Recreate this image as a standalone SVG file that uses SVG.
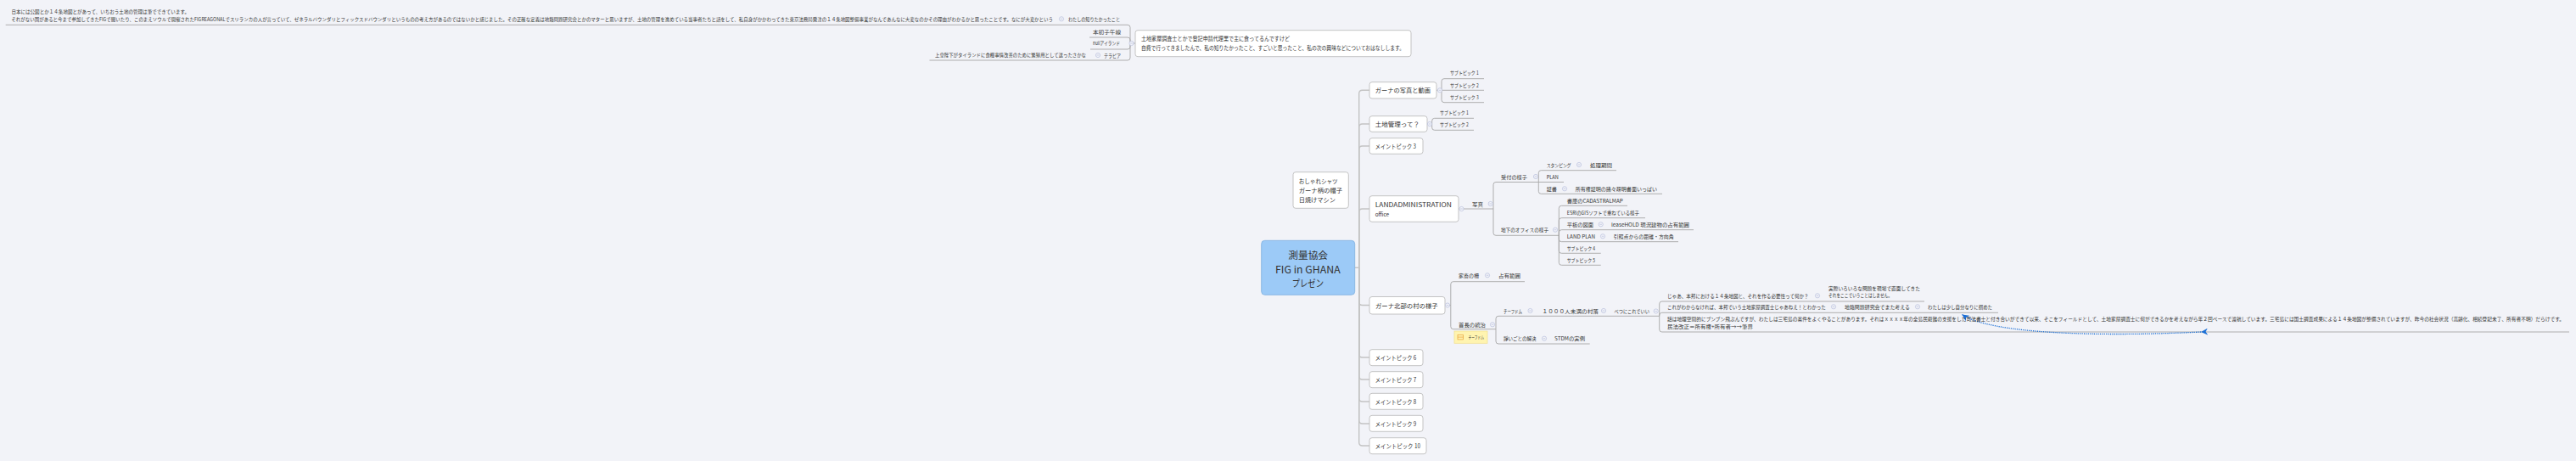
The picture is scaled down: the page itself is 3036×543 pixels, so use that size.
<svg xmlns="http://www.w3.org/2000/svg" xmlns:xlink="http://www.w3.org/1999/xlink" width="3036" height="543" viewBox="0 0 3036 543">
<defs>
<style>
.t{font-family:"Noto Sans CJK JP","Noto Sans",sans-serif;fill:#333;dominant-baseline:central}
.xs{font-size:5.5px}
.s{font-size:6px}
.m{font-size:7.3px}
.c{font-size:11.5px}
.box{fill:#fff;stroke:#bdbdbd;stroke-width:0.9}
.ln{fill:none;stroke:#a6a6a6;stroke-width:0.9}
.tr{fill:none;stroke:#c3c3c3;stroke-width:1.4}
.rel{fill:none;stroke:#1b6fd6;stroke-width:1.3;stroke-dasharray:1.2 1.2}
</style>
<g id="btn"><circle r="2.6" fill="#f2f3f8" stroke="#b7bfdc" stroke-width="0.7"/><path d="M-1.3 0H1.3" stroke="#b7bfdc" stroke-width="0.7"/></g>
<marker id="ah" viewBox="0 0 10 10" refX="10" refY="5" markerWidth="8" markerHeight="8" markerUnits="userSpaceOnUse" orient="auto"><path d="M10 5L0 0L3 5L0 10Z" fill="#1b6fd6"/></marker>
</defs>
<rect width="3036" height="543" fill="#f2f3f8"/>

<g id="connectors">
<g class="tr">
<path d="M1596.7 315.3H1601.7"/>
<path d="M1601.7 315.3V110.3Q1601.7 106.3 1605.7 106.3H1614"/>
<path d="M1601.7 315.3V150Q1601.7 146 1605.7 146H1614"/>
<path d="M1601.7 315.3V176Q1601.7 172 1605.7 172H1614"/>
<path d="M1601.7 315.3V250Q1601.7 246 1605.7 246H1614"/>
<path d="M1601.7 315.3V355.5Q1601.7 359.5 1605.7 359.5H1614"/>
<path d="M1601.7 315.3V417Q1601.7 421 1605.7 421H1614"/>
<path d="M1601.7 315.3V443Q1601.7 447 1605.7 447H1614"/>
<path d="M1601.7 315.3V469Q1601.7 473 1605.7 473H1614"/>
<path d="M1601.7 315.3V495Q1601.7 499 1605.7 499H1614"/>
<path d="M1601.7 315.3V521Q1601.7 525 1605.7 525H1614"/>
</g>
<g class="ln">
<path d="M1338 51H1332"/>
<path d="M1332 51V32.3Q1332 29.3 1329 29.3H6.7"/>
<path d="M1332 51V47Q1332 44 1329 44H1284"/>
<path d="M1332 51V55Q1332 58 1329 58H1285"/>
<path d="M1332 51V68Q1332 71 1329 71H1095.5"/>
<path d="M1693 106.3H1699"/>
<path d="M1699 106.3V95.7Q1699 92.7 1702 92.7H1749"/>
<path d="M1699 106.3H1749"/>
<path d="M1699 106.3V117.7Q1699 120.7 1702 120.7H1749"/>
<path d="M1682 146H1687.7"/>
<path d="M1687.7 146V142.3Q1687.7 139.3 1690.7 139.3H1737"/>
<path d="M1687.7 146V150.3Q1687.7 153.3 1690.7 153.3H1737"/>
<path d="M1719 246H1760"/>
<path d="M1760 246V217.5Q1760 214.5 1763 214.5H1813.3"/>
<path d="M1760 246V274.3Q1760 277.3 1763 277.3H1837.3"/>
<path d="M1813.3 214.5V203.7Q1813.3 200.7 1816.3 200.7H1905"/>
<path d="M1813.3 214.5H1843"/>
<path d="M1813.3 214.5V225.3Q1813.3 228.3 1816.3 228.3H1959"/>
<path d="M1837.3 277.3V245.3Q1837.3 242.3 1840.3 242.3H1918"/>
<path d="M1837.3 277.3V259.7Q1837.3 256.7 1840.3 256.7H1939"/>
<path d="M1837.3 277.3V273.7Q1837.3 270.7 1840.3 270.7H1996"/>
<path d="M1837.3 277.3V281.7Q1837.3 284.7 1840.3 284.7H1978"/>
<path d="M1837.3 277.3V295.3Q1837.3 298.3 1840.3 298.3H1886.7"/>
<path d="M1837.3 277.3V309.3Q1837.3 312.3 1840.3 312.3H1886.7"/>
<path d="M1703 359.5H1709.8"/>
<path d="M1709.8 359.5V334.7Q1709.8 331.7 1712.8 331.7H1797"/>
<path d="M1709.8 359.5V384.7Q1709.8 387.7 1712.8 387.7H1763"/>
<path d="M1763 387.7V375.3Q1763 372.3 1766 372.3H1955.7"/>
<path d="M1763 387.7V402Q1763 405 1766 405H1873.7"/>
<path d="M1955.7 372.3V358Q1955.7 355 1958.7 355H2268"/>
<path d="M1955.7 372.3V371.3Q1955.7 368.3 1958.7 368.3H2355"/>
<path d="M1955.7 372.3V388Q1955.7 391 1958.7 391H3028"/>
</g>
<path class="rel" d="M2594 391C2470 397 2345 393 2312.5 370.5" marker-start="url(#ah)" marker-end="url(#ah)"/>
</g>

<g id="node-top-text">
<text class="t xs" x="13.4" y="13.5" textLength="209.6" lengthAdjust="spacingAndGlyphs">日本には公図とか１４条地図とがあって、いちおう土地の管理は筆でできています。</text>
<text class="t xs" x="13.4" y="22.5" textLength="1227.6" lengthAdjust="spacingAndGlyphs">それがない国があると今まで参加してきたFIGで聞いたり、このまえソウルで開催されたFIGREAGONALでスリランカの人が言っていて、ゼネラルバウンダリとフィックスドバウンダリというものの考え方があるのではないかと感じました。その正確な定義は地籍問題研究会とかのマターと思いますが、土地の管理を進めている当事者たちと話をして、私自身がかかわってきた東京法務局発注の１４条地図整備事業がなんであんなに大変なのかその理由がわかるかと思ったことです。なにが大変かという</text>
</g>
<g id="node-shiritakatta">
<use href="#btn" x="1251" y="22.3"/>
<text class="t s" x="1259" y="22.3" textLength="61" lengthAdjust="spacingAndGlyphs">わたしの知りたかったこと</text>
</g>
<g id="node-honsho">
<text class="t s" x="1288" y="37.3" textLength="33" lengthAdjust="spacingAndGlyphs">本初子午線</text>
</g>
<g id="node-null">
<text class="t s" x="1288" y="50.7" textLength="32" lengthAdjust="spacingAndGlyphs">nullアイランド</text>
</g>
<g id="node-terapia">
<use href="#btn" x="1294" y="65"/>
<text class="t s" x="1301" y="65" textLength="20" lengthAdjust="spacingAndGlyphs">テラピア</text>
</g>
<g id="node-joko">
<text class="t xs" x="1102" y="65" textLength="178" lengthAdjust="spacingAndGlyphs">上皇陛下がタイランドに食糧事情改善のために繁殖用として送ったさかな</text>
</g>
<g id="node-intro">
<rect class="box" x="1338" y="35.7" width="325" height="31" rx="3"/>
<use href="#btn" x="1333.5" y="51"/>
<text class="t" font-size="6.4" x="1345" y="45.7" textLength="175" lengthAdjust="spacingAndGlyphs">土地家屋調査士とかで登記申請代理業で主に食ってるんですけど</text>
<text class="t" font-size="6.4" x="1345" y="56.7" textLength="310" lengthAdjust="spacingAndGlyphs">自費で行ってきましたんで、私の知りたかったこと、すごいと思ったこと、私の次の興味などについておはなしします。</text>
</g>

<g id="node-center">
<rect x="1486.7" y="283.3" width="110" height="64" rx="4" fill="#9ccaf7" stroke="#86b4e2" stroke-width="0.9"/>
<text class="t c" x="1518.3" y="300" textLength="46.7" lengthAdjust="spacingAndGlyphs">測量協会</text>
<text class="t c" x="1503" y="316.7" textLength="76.7" lengthAdjust="spacingAndGlyphs">FIG in GHANA</text>
<text class="t c" x="1522.7" y="332.7" textLength="37.3" lengthAdjust="spacingAndGlyphs">プレゼン</text>
</g>
<g id="node-oshare">
<rect class="box" x="1524" y="202.7" width="65.3" height="42.6" rx="3"/>
<text class="t m" x="1530.7" y="212.7" textLength="46" lengthAdjust="spacingAndGlyphs">おしゃれシャツ</text>
<text class="t m" x="1530.7" y="224" textLength="51.3" lengthAdjust="spacingAndGlyphs">ガーナ柄の帽子</text>
<text class="t m" x="1530.7" y="235.3" textLength="43.3" lengthAdjust="spacingAndGlyphs">日焼けマシン</text>
</g>

<g id="node-main1">
<rect class="box" x="1614" y="96.7" width="79" height="19.3" rx="3"/>
<text class="t m" x="1620.7" y="106.3" textLength="65.3" lengthAdjust="spacingAndGlyphs">ガーナの写真と動画</text>
<use href="#btn" x="1697" y="106.3"/>
</g>
<g id="node-main1-sub1"><text class="t s" x="1709" y="85.7" textLength="33.7" lengthAdjust="spacingAndGlyphs">サブトピック 1</text></g>
<g id="node-main1-sub2"><text class="t s" x="1709" y="100" textLength="33.7" lengthAdjust="spacingAndGlyphs">サブトピック 2</text></g>
<g id="node-main1-sub3"><text class="t s" x="1709" y="114" textLength="33.7" lengthAdjust="spacingAndGlyphs">サブトピック 3</text></g>

<g id="node-main2">
<rect class="box" x="1614" y="136.7" width="68" height="18.6" rx="3"/>
<text class="t m" x="1620.7" y="146" textLength="52.3" lengthAdjust="spacingAndGlyphs">土地管理って？</text>
<use href="#btn" x="1685" y="146"/>
</g>
<g id="node-main2-sub1"><text class="t s" x="1697" y="132.3" textLength="33.7" lengthAdjust="spacingAndGlyphs">サブトピック 1</text></g>
<g id="node-main2-sub2"><text class="t s" x="1697" y="146.7" textLength="33.7" lengthAdjust="spacingAndGlyphs">サブトピック 2</text></g>

<g id="node-main3">
<rect class="box" x="1614" y="162.7" width="63" height="18.6" rx="3"/>
<text class="t m" x="1620.7" y="172" textLength="48.3" lengthAdjust="spacingAndGlyphs">メイントピック 3</text>
</g>

<g id="node-landadmin">
<rect class="box" x="1614" y="230.7" width="105" height="30.6" rx="3"/>
<text class="t m" x="1620.7" y="240.7" textLength="90.3" lengthAdjust="spacingAndGlyphs">LANDADMINISTRATION</text>
<text class="t m" x="1620.7" y="252" textLength="16.5" lengthAdjust="spacingAndGlyphs">office</text>
<use href="#btn" x="1722.5" y="246"/>
</g>
<g id="node-shashin">
<text class="t s" x="1735" y="240" textLength="13" lengthAdjust="spacingAndGlyphs">写真</text>
<use href="#btn" x="1756.7" y="240"/>
</g>
<g id="node-uketsuke">
<text class="t s" x="1769" y="208" textLength="31" lengthAdjust="spacingAndGlyphs">受付の様子</text>
<use href="#btn" x="1810" y="208"/>
</g>
<g id="node-stamping">
<text class="t s" x="1822.7" y="194" textLength="29" lengthAdjust="spacingAndGlyphs">スタンピング</text>
<use href="#btn" x="1861" y="194"/>
</g>
<g id="node-shorikikan"><text class="t s" x="1874" y="194" textLength="26" lengthAdjust="spacingAndGlyphs">処理期間</text></g>
<g id="node-plan"><text class="t s" x="1822.7" y="208" textLength="14" lengthAdjust="spacingAndGlyphs">PLAN</text></g>
<g id="node-shosho">
<text class="t s" x="1822.7" y="222.3" textLength="12.3" lengthAdjust="spacingAndGlyphs">証書</text>
<use href="#btn" x="1844" y="222.3"/>
</g>
<g id="node-shoyuken"><text class="t s" x="1856.7" y="222.3" textLength="96.3" lengthAdjust="spacingAndGlyphs">所有権証明の諸々疎明書面いっぱい</text></g>
<g id="node-chika">
<text class="t s" x="1769" y="270.7" textLength="56" lengthAdjust="spacingAndGlyphs">地下のオフィスの様子</text>
<use href="#btn" x="1833" y="270.7"/>
</g>
<g id="node-shoko"><text class="t s" x="1846.7" y="236" textLength="66" lengthAdjust="spacingAndGlyphs">書庫のCADASTRALMAP</text></g>
<g id="node-esri"><text class="t s" x="1846.7" y="250.3" textLength="85.3" lengthAdjust="spacingAndGlyphs">ESRIのGISソフトで重ねている様子</text></g>
<g id="node-heiban">
<text class="t s" x="1846.7" y="264.3" textLength="31.3" lengthAdjust="spacingAndGlyphs">平板の図面</text>
<use href="#btn" x="1886.7" y="264.3"/>
</g>
<g id="node-leasehold"><text class="t s" x="1899" y="264.3" textLength="92" lengthAdjust="spacingAndGlyphs">leaseHOLD 現況建物の占有範囲</text></g>
<g id="node-landplan">
<text class="t s" x="1846.7" y="278.3" textLength="33.3" lengthAdjust="spacingAndGlyphs">LAND PLAN</text>
<use href="#btn" x="1889" y="278.3"/>
</g>
<g id="node-insho"><text class="t s" x="1901.7" y="278.3" textLength="71" lengthAdjust="spacingAndGlyphs">引照点からの距離・方向角</text></g>
<g id="node-sub4"><text class="t s" x="1846.7" y="292.3" textLength="33.3" lengthAdjust="spacingAndGlyphs">サブトピック 4</text></g>
<g id="node-sub5"><text class="t s" x="1846.7" y="306.7" textLength="33.3" lengthAdjust="spacingAndGlyphs">サブトピック 5</text></g>

<g id="node-main5">
<rect class="box" x="1614" y="349.5" width="89" height="20.5" rx="3"/>
<text class="t m" x="1621" y="359.5" textLength="73.7" lengthAdjust="spacingAndGlyphs">ガーナ北部の村の様子</text>
<use href="#btn" x="1706" y="359.5"/>
</g>
<g id="node-kachiku">
<text class="t s" x="1719" y="324.3" textLength="24" lengthAdjust="spacingAndGlyphs">家畜の柵</text>
<use href="#btn" x="1753" y="324.3"/>
</g>
<g id="node-senyu"><text class="t s" x="1766" y="324.3" textLength="26" lengthAdjust="spacingAndGlyphs">占有範囲</text></g>
<g id="node-shucho">
<text class="t s" x="1719" y="382.3" textLength="32" lengthAdjust="spacingAndGlyphs">首長の統治</text>
<use href="#btn" x="1759" y="382.3"/>
<rect x="1714" y="390" width="39" height="14.3" fill="#fff4b0" stroke="#f1df8c" stroke-width="0.7"/>
<rect x="1718" y="394.3" width="6.6" height="5.6" fill="none" stroke="#e9a23b" stroke-width="0.7"/>
<path d="M1718 397.1H1724.6" stroke="#e9a23b" stroke-width="0.7"/>
<text class="t" font-size="5" x="1730.5" y="396.9" textLength="18.5" lengthAdjust="spacingAndGlyphs">チーフドム</text>
</g>
<g id="node-chiefdom">
<text class="t s" x="1772" y="366" textLength="22" lengthAdjust="spacingAndGlyphs">チーフドム</text>
<use href="#btn" x="1803.5" y="366"/>
</g>
<g id="node-sonraku">
<text class="t s" x="1817.5" y="366" textLength="66.5" lengthAdjust="spacingAndGlyphs">１０００人未満の村落</text>
<use href="#btn" x="1890" y="366"/>
</g>
<g id="node-betsuni">
<text class="t s" x="1902.5" y="366" textLength="41.5" lengthAdjust="spacingAndGlyphs">べつにこれでいい</text>
<use href="#btn" x="1951.7" y="366.5"/>
</g>
<g id="node-isakai">
<text class="t s" x="1772" y="398.7" textLength="38.5" lengthAdjust="spacingAndGlyphs">諍いごとの解決</text>
<use href="#btn" x="1820" y="398.7"/>
</g>
<g id="node-stdm"><text class="t s" x="1832" y="398.7" textLength="36" lengthAdjust="spacingAndGlyphs">STDMの実例</text></g>
<g id="node-jaa">
<text class="t s" x="1965" y="348.3" textLength="166.7" lengthAdjust="spacingAndGlyphs">じゃあ、本邦における１４条地図と、それを作る必要性って何か？</text>
<use href="#btn" x="2142" y="348.3"/>
</g>
<g id="node-jissai">
<text class="t s" x="2155" y="339" textLength="108" lengthAdjust="spacingAndGlyphs">実際いろいろな問題を現場で直面してきた</text>
<text class="t s" x="2155" y="347.7" textLength="75" lengthAdjust="spacingAndGlyphs">それをここでいうことはしません。</text>
</g>
<g id="node-korega">
<text class="t s" x="1965" y="361.3" textLength="186.7" lengthAdjust="spacingAndGlyphs">これがわからなければ、本邦でいう土地家屋調査士じゃあねえ！とわかった</text>
<use href="#btn" x="2161" y="361.3"/>
</g>
<g id="node-chiseki">
<text class="t s" x="2174" y="361.3" textLength="77" lengthAdjust="spacingAndGlyphs">地籍問題研究会でまた考える</text>
<use href="#btn" x="2260" y="361.3"/>
</g>
<g id="node-tsukameta"><text class="t s" x="2272" y="361.3" textLength="76" lengthAdjust="spacingAndGlyphs">わたしは少し自分なりに掴めた</text></g>
<g id="node-hanashi">
<text class="t s" x="1965" y="375" textLength="1057" lengthAdjust="spacingAndGlyphs">話は地理空間的にブンブン飛ぶんですが、わたしは三宅島の案件をよくやることがあります。それはｘｘｘｘ年の全島民避難の支援をした司法書士と付き合いができて以来、そこをフィールドとして、土地家屋調査士に何ができるかを考えながら年２回ペースで渡航しています。三宅島には国土調査成果による１４条地図が整備されていますが、昨今の社会状況（高齢化、相続登記未了、所有者不明）だらけです。</text>
<text class="t s" x="1965" y="384" textLength="101" lengthAdjust="spacingAndGlyphs">民法改正＝所有権+所有者→→筆界</text>
</g>

<g id="node-main6"><rect class="box" x="1614" y="411.7" width="63" height="19" rx="3"/><text class="t m" x="1620.7" y="421" textLength="48.6" lengthAdjust="spacingAndGlyphs">メイントピック 6</text></g>
<g id="node-main7"><rect class="box" x="1614" y="437.7" width="63" height="19" rx="3"/><text class="t m" x="1620.7" y="447" textLength="48.6" lengthAdjust="spacingAndGlyphs">メイントピック 7</text></g>
<g id="node-main8"><rect class="box" x="1614" y="463.3" width="63" height="19" rx="3"/><text class="t m" x="1620.7" y="473" textLength="48.6" lengthAdjust="spacingAndGlyphs">メイントピック 8</text></g>
<g id="node-main9"><rect class="box" x="1614" y="489.3" width="63" height="19" rx="3"/><text class="t m" x="1620.7" y="499" textLength="48.6" lengthAdjust="spacingAndGlyphs">メイントピック 9</text></g>
<g id="node-main10"><rect class="box" x="1614" y="515.7" width="67" height="19" rx="3"/><text class="t m" x="1620.7" y="525" textLength="53.3" lengthAdjust="spacingAndGlyphs">メイントピック 10</text></g>
</svg>
